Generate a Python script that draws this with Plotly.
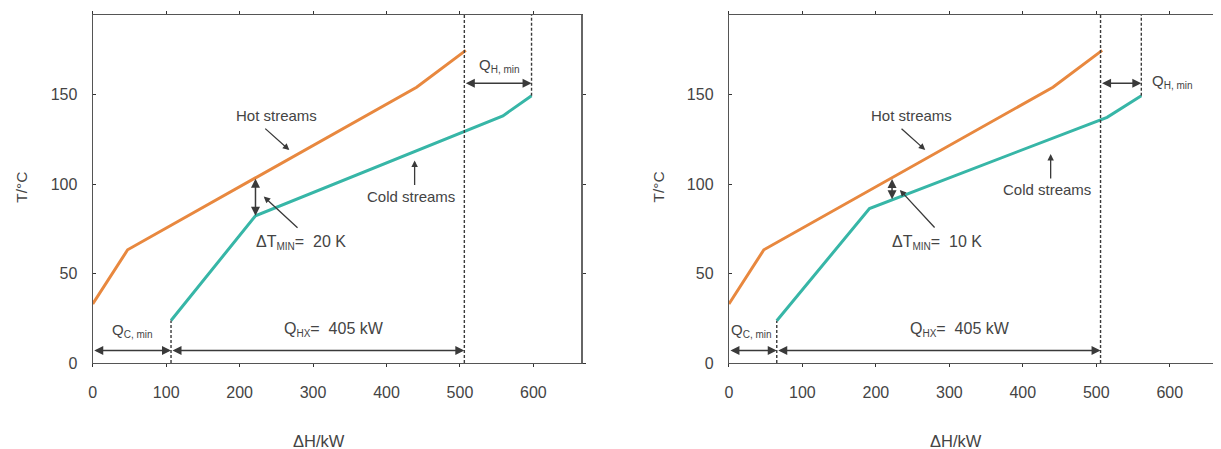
import plotly.graph_objects as go

# ---------------- data ----------------
hot_H = [0, 47.5, 441, 508]
hot_T = [33, 63.3, 154.2, 174.8]

cold20_H = [106.6, 221.6, 558.5, 597.5]
cold20_T = [23.8, 82.3, 138.2, 149.5]

cold10_H = [65.1, 191.3, 514.7, 561.3]
cold10_T = [23.6, 86.4, 137.4, 149.5]

# pinch/utility boundaries (kW)
qc_end_20, hx_end_20, qh_end_20 = 106.6, 506.0, 597.5
qc_end_10, hx_end_10, qh_end_10 = 65.1, 505.8, 561.3

x_ticks = [0, 100, 200, 300, 400, 500, 600]
y_ticks = [0, 50, 100, 150]

ORANGE = "#E8883F"
TEAL = "#37B6A7"
DARK = "#3a3a3a"
TXT = "#444444"
FONT = "Liberation Sans, Arial, sans-serif"

XR = [0, 665]
YR = [0, 194.6]

# page body has an 8px margin: figure pixel = reference pixel - 8
OFF = 8
W, H = 1221 - OFF, 449 - OFF
mt = 15 - OFF
mb = H - (363 - OFF)
ph = H - mt - mb


def sub(t):
    return '<sub><span style="font-size:10px">' + t + '</span></sub>'


fig = go.Figure()

panels = [
    dict(xa="x", ya="y", cH=cold20_H, cT=cold20_T, qc=qc_end_20, hx=hx_end_20, qh=qh_end_20),
    dict(xa="x2", ya="y2", cH=cold10_H, cT=cold10_T, qc=qc_end_10, hx=hx_end_10, qh=qh_end_10),
]

shapes = []
annots = []

for i, p in enumerate(panels):
    fig.add_trace(go.Scatter(x=hot_H, y=hot_T, mode="lines", xaxis=p["xa"], yaxis=p["ya"],
                             line=dict(color=ORANGE, width=3), showlegend=False, hoverinfo="skip"))
    fig.add_trace(go.Scatter(x=p["cH"], y=p["cT"], mode="lines", xaxis=p["xa"], yaxis=p["ya"],
                             line=dict(color=TEAL, width=3), showlegend=False, hoverinfo="skip"))
    xr, yr = p["xa"], p["ya"]
    dash = dict(color=DARK, width=1.4, dash="3px,2px")
    shapes.append(dict(type="line", xref=xr, yref=yr, x0=p["qc"], x1=p["qc"], y0=0, y1=p["cT"][0], line=dash))
    shapes.append(dict(type="line", xref=xr, yref=yr, x0=p["hx"], x1=p["hx"], y0=0, y1=YR[1], line=dash))
    shapes.append(dict(type="line", xref=xr, yref=yr, x0=p["qh"], x1=p["qh"], y0=p["cT"][-1], y1=YR[1], line=dash))

    def darrow(x0, y0, x1, y1, xr=xr, yr=yr):
        annots.append(dict(x=x1, y=y1, ax=x0, ay=y0, xref=xr, yref=yr, axref=xr, ayref=yr,
                           text="", showarrow=True, arrowhead=2, startarrowhead=2,
                           arrowside="end+start", arrowsize=1.2, startarrowsize=1.2,
                           arrowwidth=1.5, arrowcolor=DARK))

    def sarrow(x0, y0, x1, y1, xr=xr, yr=yr):
        annots.append(dict(x=x1, y=y1, ax=x0, ay=y0, xref=xr, yref=yr, axref=xr, ayref=yr,
                           text="", showarrow=True, arrowhead=2, arrowsize=1.0,
                           arrowwidth=1.3, arrowcolor=DARK))

    def label(x, y, t, size=15, xr=xr, yr=yr):
        annots.append(dict(x=x, y=y, xref=xr, yref=yr, text=t, showarrow=False,
                           xanchor="center", yanchor="middle",
                           font=dict(family=FONT, size=size, color=TXT)))

    darrow(0, 7, p["qc"], 7)
    darrow(p["qc"], 7, p["hx"], 7)
    darrow(p["hx"], 156.4, p["qh"], 156.4)

    if i == 0:
        darrow(221.6, 103.9, 221.6, 82.3)
        label(250, 138.5, "Hot streams")
        sarrow(232.9, 131.8, 267.7, 119.1)
        label(283.6, 67.5, "ΔT" + sub("MIN") + "=  20 K", 16)
        sarrow(280.9, 74.8, 232.9, 93.1)
        label(433.3, 93.1, "Cold streams")
        sarrow(438.3, 98.7, 438.3, 113.2)
        label(54, 18.0, "Q" + sub("C, min"))
        label(328, 18.5, "Q" + sub("HX") + "=  405 kW", 16)
        label(553.6, 166.5, "Q" + sub("H, min"))
    else:
        darrow(222, 103.7, 222, 91.5)
        label(249, 138.5, "Hot streams")
        sarrow(232.9, 131.8, 267.2, 119.1)
        label(283.7, 67.5, "ΔT" + sub("MIN") + "=  10 K", 16)
        sarrow(281.8, 74.9, 232.6, 96.8)
        label(433.4, 96.8, "Cold streams")
        sarrow(437.9, 102.4, 437.9, 116.9)
        label(31.3, 18.0, "Q" + sub("C, min"))
        label(314.5, 18.5, "Q" + sub("HX") + "=  405 kW", 16)
        label(604, 157.2, "Q" + sub("H, min"))


def py(pix):
    return (H - mb - (pix - OFF)) / ph


def px(pix):
    return (pix - OFF) / W


for cx_pix, tx_pix in [(18, 316), (657, 955)]:
    annots.append(dict(x=px(cx_pix), y=py(186.7), xref="paper", yref="paper", text="T/°C",
                       xanchor="center", yanchor="middle",
                       textangle=-90, showarrow=False, font=dict(family=FONT, size=15.5, color=TXT)))
    annots.append(dict(x=px(tx_pix), y=py(441), xref="paper", yref="paper", text="ΔH/kW",
                       xanchor="center", yanchor="middle",
                       showarrow=False, font=dict(family=FONT, size=16.5, color=TXT)))

dom1 = [px(89), px(579)]
dom2 = [px(727.3), min(px(1217.5), 1.0)]

xcommon = dict(range=XR, tickvals=x_ticks, ticks="outside", ticklen=3, tickwidth=1.2,
               tickcolor="#333", showline=True, linecolor="#555", linewidth=1.3, mirror="ticks",
               showgrid=False, zeroline=False, ticklabelstandoff=12,
               tickfont=dict(family=FONT, size=16, color=TXT))
ycommon = dict(range=YR, tickvals=y_ticks, ticks="inside", ticklen=3, tickwidth=1.2,
               tickcolor="#333", showline=True, linecolor="#555", linewidth=1.3, mirror=False,
               showgrid=False, zeroline=False, ticklabelstandoff=11,
               tickfont=dict(family=FONT, size=16, color=TXT))
yright = dict(range=YR, tickvals=y_ticks, ticks="outside", ticklen=3, tickwidth=1.2,
              tickcolor="#333", showline=True, linecolor="#666", linewidth=1.6,
              showticklabels=False, showgrid=False, zeroline=False, side="right")

fig.add_trace(go.Scatter(x=[None], y=[None], xaxis="x", yaxis="y3", showlegend=False))
fig.add_trace(go.Scatter(x=[None], y=[None], xaxis="x2", yaxis="y4", showlegend=False))

fig.update_layout(
    width=W, height=H,
    margin=dict(l=0, r=0, t=mt, b=mb, pad=0),
    paper_bgcolor="white", plot_bgcolor="white",
    xaxis=dict(domain=dom1, anchor="y", **xcommon),
    yaxis=dict(domain=[0, 1], anchor="x", **ycommon),
    xaxis2=dict(domain=dom2, anchor="y2", **xcommon),
    yaxis2=dict(domain=[0, 1], anchor="x2", **ycommon),
    yaxis3=dict(overlaying="y", anchor="x", **yright),
    yaxis4=dict(overlaying="y2", anchor="x2", **yright),
    shapes=shapes,
    annotations=annots,
)

fig.write_html("out.html")
